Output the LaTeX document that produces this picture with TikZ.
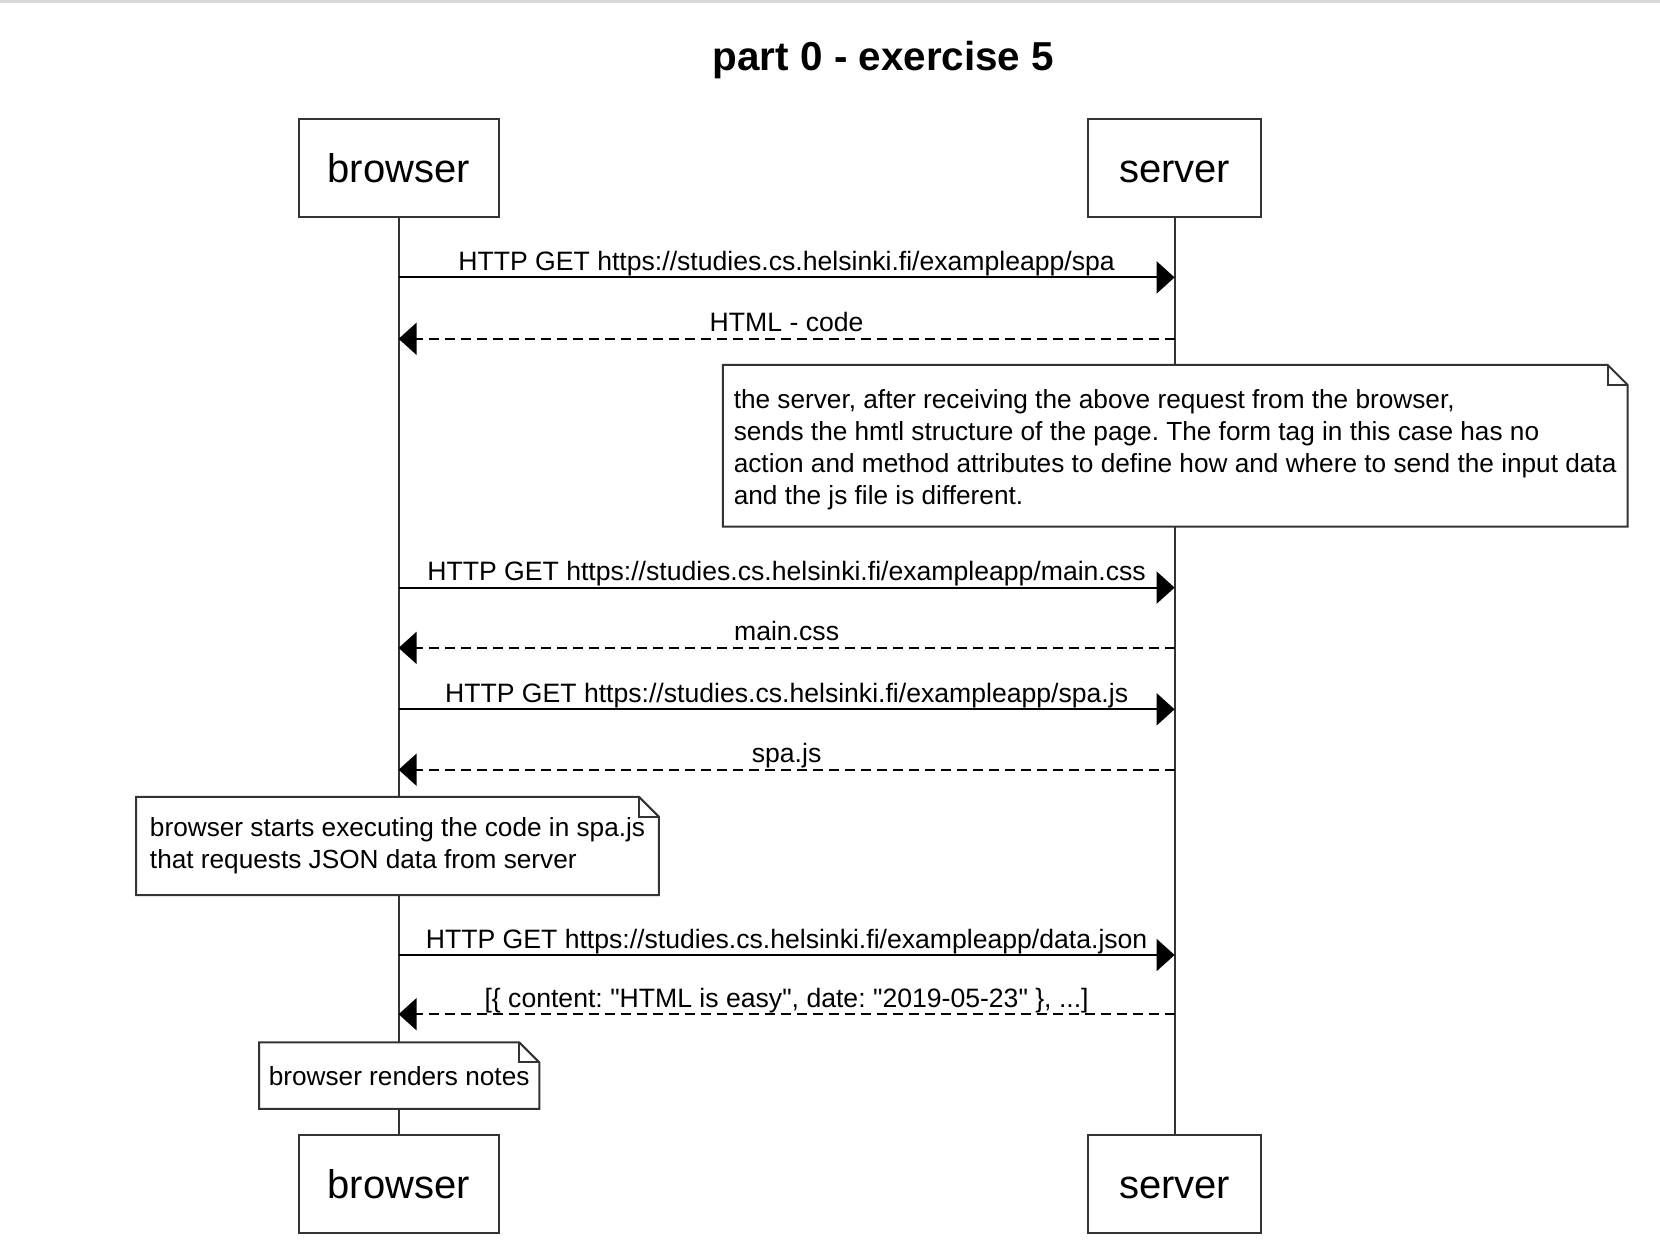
\documentclass[tikz,border=0pt]{standalone}
\usepackage{fontspec}
\setmainfont{Liberation Sans}
% plain family without TeX ligatures, so " stays a straight quote
\newfontfamily\labelfont{Liberation Sans}
\usetikzlibrary{arrows.meta}
\definecolor{edge}{HTML}{333333}
\definecolor{topband}{HTML}{D9D9D9}
\frenchspacing

% outline of a note with a folded top-right corner
\newcommand\dogear[1]{%
  \draw[noteline] (#1.north west) -- ([xshift=-10pt]#1.north east)
    -- ([yshift=-10pt]#1.north east) -- (#1.south east) -- (#1.south west) -- cycle;
  \draw[noteline] ([xshift=-10pt]#1.north east) |- ([yshift=-10pt]#1.north east);
}

\begin{document}
\begin{tikzpicture}[x=0.5pt,y=-0.5pt,
  actor/.style={draw=edge, line width=1pt, fill=white,
    font=\fontsize{20}{24}\selectfont, text height=14.4pt, text depth=0pt,
    inner sep=0pt, minimum height=49.2pt},
  lifeline/.style={draw=edge, line width=1pt},
  call/.style={line width=1pt, draw=black, -{Triangle[length=9pt,width=16pt]}},
  reply/.style={call, dash pattern=on 5pt off 3pt},
  msg/.style={font=\labelfont\fontsize{13.3}{16}\selectfont, midway, anchor=base,
    yshift=3.5pt, inner sep=0pt},
  note/.style={fill=white, font=\fontsize{13.1}{15.9}\selectfont, align=left,
    inner sep=0pt},
  noteline/.style={draw=edge, line width=1pt, line join=miter}
]
\useasboundingbox (0,0) rectangle (1660,1258);
\fill[topband] (0,0) rectangle (1660,3);

% title
\node[font=\bfseries\fontsize{20.2}{24}\selectfont, anchor=base, inner sep=0pt]
  (title) at (883.5,70) {part 0 - exercise 5};

% participants
\node[actor, minimum width=100pt]  (bt) at (398.6,167.8)  {browser};
\node[actor, minimum width=86.3pt] (st) at (1174.6,167.8) {server};
\node[actor, minimum width=100pt]  (bb) at (398.6,1183.7) {browser};
\node[actor, minimum width=86.3pt] (sb) at (1174.6,1183.7) {server};

% lifelines
\draw[lifeline] (bt) -- (bb);
\draw[lifeline] (st) -- (sb);

% message rows
\coordinate (m1) at (0,277.4);
\coordinate (m2) at (0,338.8);
\coordinate (m3) at (0,587.6);
\coordinate (m4) at (0,647.9);
\coordinate (m5) at (0,709.3);
\coordinate (m6) at (0,769.7);
\coordinate (m7) at (0,955.0);
\coordinate (m8) at (0,1014.2);

\draw[call]  (bt |- m1) -- node[msg] (t1) {HTTP GET https://studies.cs.helsinki.fi/exampleapp/spa} (st |- m1);
\draw[reply] (st |- m2) -- node[msg] (t2) {HTML - code} (bt |- m2);
\draw[call]  (bt |- m3) -- node[msg] (t3) {HTTP GET https://studies.cs.helsinki.fi/exampleapp/main.css} (st |- m3);
\draw[reply] (st |- m4) -- node[msg] (t4) {main.css} (bt |- m4);
\draw[call]  (bt |- m5) -- node[msg] (t5) {HTTP GET https://studies.cs.helsinki.fi/exampleapp/spa.js} (st |- m5);
\draw[reply] (st |- m6) -- node[msg] (t6) {spa.js} (bt |- m6);
\draw[call]  (bt |- m7) -- node[msg] (t7) {HTTP GET https://studies.cs.helsinki.fi/exampleapp/data.json} (st |- m7);
\draw[reply] (st |- m8) -- node[msg] (t8) {[\{ content: "HTML is easy", date: "2019-05-23" \}, ...]} (bt |- m8);

% notes
\node[note, minimum width=452pt, minimum height=80.45pt] (n1) at (1175.15,445.75)
  {\rule{0pt}{13.3pt}the server, after receiving the above request from the browser,\\
   sends the hmtl structure of the page. The form tag in this case has no\\
   action and method attributes to define how and where to send the input data\\
   and the js file is different.};
\dogear{n1}

\node[note, minimum width=260.95pt, minimum height=48.7pt] (n2) at (397.55,845.9)
  {browser starts executing the code in spa.js\\
   that requests JSON data from server};
\dogear{n2}

\node[note, minimum width=139.75pt, minimum height=32.85pt] (n3) at (399.15,1075.65)
  {browser renders notes};
\dogear{n3}
\end{tikzpicture}
\end{document}
